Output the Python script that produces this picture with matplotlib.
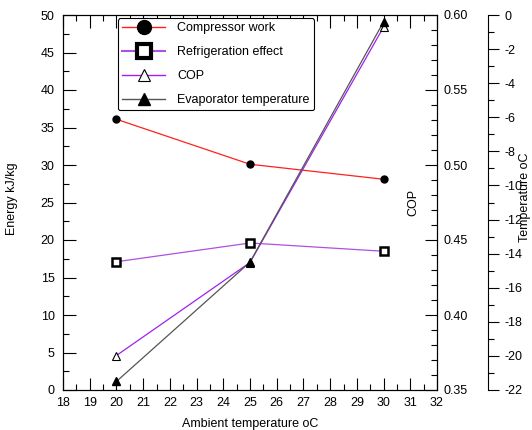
import matplotlib
matplotlib.use("Agg")
import matplotlib.pyplot as plt
from matplotlib.lines import Line2D
from matplotlib.ticker import MultipleLocator

plt.rcParams['font.family'] = ['Liberation Sans', 'DejaVu Sans']
plt.rcParams['axes.unicode_minus'] = False

ambient = [20, 25, 30]
compressor_work = [36.1, 30.1, 28.1]
refrigeration_effect = [17.1, 19.6, 18.5]
cop = [0.373, 0.435, 0.592]
evap_temp = [-21.5, -14.5, -0.4]

c_comp = '#ff2020'
c_ref = '#b050e0'
c_cop = '#a020f0'
c_evap = '#555555'

fig = plt.figure(figsize=(5.32, 4.30), dpi=100)
ax = fig.add_axes([63/532, 40/430, 374/532, 375/430])
ax2 = ax.twinx()
ax3 = ax.twinx()

fs = 9
# main axis
ax.plot(ambient, compressor_work, color=c_comp, lw=0.9, marker='o', ms=5,
        mfc='black', mec='black', zorder=3)
ax.plot(ambient, refrigeration_effect, color=c_ref, lw=0.9, marker='s', ms=5.5,
        mfc='white', mec='black', mew=1.8, zorder=3)
ax2.plot(ambient, cop, color=c_cop, lw=0.9, marker='^', ms=6,
         mfc='white', mec='black', mew=0.8, zorder=3)
ax3.plot(ambient, evap_temp, color=c_evap, lw=0.9, marker='^', ms=6,
         mfc='black', mec='black', zorder=4)

ax.set_xlim(18, 32)
ax.set_ylim(0, 50)
ax.xaxis.set_major_locator(MultipleLocator(1))
ax.xaxis.set_minor_locator(MultipleLocator(0.5))
ax.yaxis.set_major_locator(MultipleLocator(5))
ax.yaxis.set_minor_locator(MultipleLocator(2.5))
ax.tick_params(axis='both', which='both', direction='in', labelsize=fs, width=0.8)
ax.tick_params(axis='x', which='both', top=True, bottom=True)
ax.tick_params(axis='y', which='both', left=True, right=False)
ax.tick_params(which='major', length=9)
ax.tick_params(which='minor', length=4.5)
ax.tick_params(axis='x', pad=5)
ax.tick_params(axis='y', pad=6)
ax.set_xlabel('Ambient temperature oC', fontsize=fs)
ax.xaxis.set_label_coords(0.5, -0.075)
ax.set_ylabel('Energy kJ/kg', fontsize=fs)
ax.yaxis.set_label_coords(-0.12, 0.51)

# COP axis
ax2.set_ylim(0.35, 0.60)
ax2.yaxis.set_major_locator(MultipleLocator(0.05))
ax2.yaxis.set_minor_locator(MultipleLocator(0.01))
ax2.yaxis.set_major_formatter(matplotlib.ticker.FormatStrFormatter('%.2f'))
ax2.tick_params(axis='y', which='both', direction='in', labelsize=fs, width=0.8, pad=5)
ax2.tick_params(which='major', length=9)
ax2.tick_params(which='minor', length=4)
ax2.set_ylabel('COP', fontsize=fs)
ax2.yaxis.set_label_coords(0.922, 0.5)

# Temperature axis
ax3.spines['right'].set_position(('axes', 1.136))
for s in ['left', 'top', 'bottom']:
    ax3.spines[s].set_visible(False)
ax3.set_ylim(-22, 0)
ax3.yaxis.set_major_locator(MultipleLocator(2))
ax3.yaxis.set_minor_locator(MultipleLocator(1))
ax3.tick_params(axis='y', which='both', direction='out', labelsize=fs, width=0.8, pad=4)
ax3.tick_params(which='major', length=8)
ax3.tick_params(which='minor', length=4)
ax3.set_ylabel('Temperature oC', fontsize=fs)
ax3.yaxis.set_label_coords(1.218, 0.515)

for a in (ax, ax2, ax3):
    for s in a.spines.values():
        s.set_linewidth(0.8)

handles = [
    Line2D([], [], color=c_comp, lw=1, marker='o', ms=10, mfc='black', mec='black'),
    Line2D([], [], color=c_ref, lw=1.5, marker='s', ms=10, mfc='white', mec='black', mew=3),
    Line2D([], [], color=c_cop, lw=1, marker='^', ms=9, mfc='white', mec='black', mew=0.8),
    Line2D([], [], color=c_evap, lw=1, marker='^', ms=9, mfc='black', mec='black'),
]
labels = ['Compressor work', 'Refrigeration effect', 'COP', 'Evaporator temperature']
leg = ax3.legend(handles, labels, loc='upper left', bbox_to_anchor=(0.147, 0.992),
                 fontsize=fs, frameon=True, fancybox=True, framealpha=1,
                 edgecolor='black', handlelength=3.4, handletextpad=1.0,
                 labelspacing=0.95, borderpad=0.35, borderaxespad=0)
leg.get_frame().set_linewidth(0.8)

fig.savefig('out.png', dpi=100)
